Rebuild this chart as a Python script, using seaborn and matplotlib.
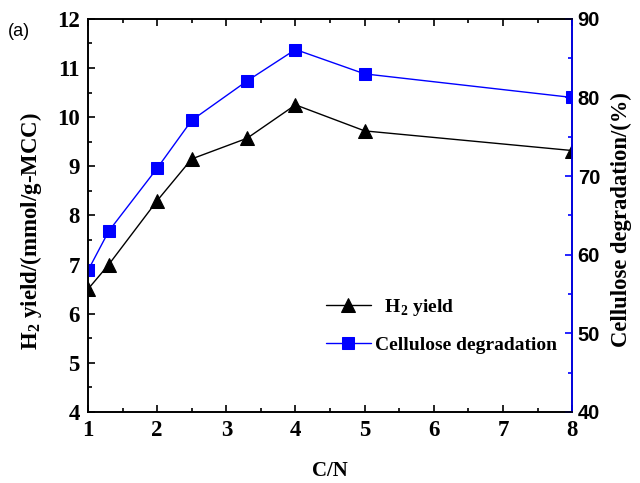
import pandas as pd
import numpy as np
import seaborn as sns
import matplotlib.pyplot as plt
from matplotlib.ticker import MultipleLocator

# data
cn = [1, 1.3, 2, 2.5, 3.3, 4, 5, 8]
h2_yield = [6.5, 7.0, 8.3, 9.15, 9.57, 10.25, 9.72, 9.32]
cell_deg = [58, 63, 71, 77.1, 82.1, 86.1, 83, 80]

df = pd.DataFrame({'CN': cn, 'H2': h2_yield, 'Cell': cell_deg})

sns.set_style("ticks")
plt.rcParams['font.family'] = ['Liberation Serif', 'DejaVu Serif']
plt.rcParams['mathtext.fontset'] = 'custom'
plt.rcParams['mathtext.rm'] = 'Liberation Serif:bold'
plt.rcParams['mathtext.bf'] = 'Liberation Serif:bold'
plt.rcParams['text.color'] = 'black'
plt.rcParams['axes.labelcolor'] = 'black'
plt.rcParams['xtick.color'] = 'black'
plt.rcParams['ytick.color'] = 'black'
plt.rcParams['axes.edgecolor'] = 'black'

fig = plt.figure(figsize=(6.4, 4.83), dpi=100)
ax = fig.add_axes([0.1375, 0.147, 0.7565, 0.814])
ax2 = ax.twinx()

sns.lineplot(data=df, x='CN', y='H2', ax=ax, color='black', marker='^',
             markersize=10, linewidth=1, markeredgecolor='black',
             label=r'  H$_2$ yield', legend=False)
sns.lineplot(data=df, x='CN', y='Cell', ax=ax2, color='#0000ff', marker='s',
             markersize=9, linewidth=1, markeredgecolor='#0000ff',
             label='Cellulose degradation', legend=False)

ax.set_xlim(1, 8)
ax.set_ylim(4, 12)
ax2.set_ylim(40, 90)
ax.xaxis.set_major_locator(MultipleLocator(1))
ax.xaxis.set_minor_locator(MultipleLocator(0.5))
ax.yaxis.set_major_locator(MultipleLocator(1))
ax.yaxis.set_minor_locator(MultipleLocator(0.5))
ax2.yaxis.set_major_locator(MultipleLocator(10))
ax2.yaxis.set_minor_locator(MultipleLocator(5))

ax.tick_params(axis='both', which='major', direction='in', length=5, width=1.2,
               top=True, labelsize=16.5, pad=6, labelcolor='black')
ax.tick_params(axis='both', which='minor', direction='in', length=3, width=1.2, top=True)
ax.tick_params(axis='y', which='both', right=False)
ax2.tick_params(axis='y', which='major', direction='in', length=5, width=1.2,
                color='#0000ff', labelsize=14.5, pad=4, labelcolor='black')
ax2.tick_params(axis='y', which='minor', direction='in', length=3, width=1.2, color='#0000ff')

for lab in ax.get_xticklabels() + ax.get_yticklabels():
    lab.set_fontweight('bold')
for lab in ax2.get_yticklabels():
    lab.set_fontweight('bold')
    lab.set_family('Liberation Sans')

for sp in ax.spines.values():
    sp.set_linewidth(1.2)
for sp in ax2.spines.values():
    sp.set_linewidth(1.2)
ax2.spines['right'].set_color('#0000ff')

ax.set_xlabel('C/N', fontsize=15, fontweight='bold', labelpad=14)
ax.set_ylabel(r'H$_2$ yield/(mmol/g-MCC)', fontsize=16.5, fontweight='bold')
ax.yaxis.set_label_coords(-0.09, 0.46)
ax2.set_ylabel('Cellulose degradation/(%)', fontsize=16.3, fontweight='bold', labelpad=8)
ax2.yaxis.set_label_coords(1.08, 0.49)

h1, l1 = ax.get_legend_handles_labels()
h2, l2 = ax2.get_legend_handles_labels()
leg = ax2.legend(h1 + h2, l1 + l2, loc='center left', bbox_to_anchor=(0.455, 0.22),
                 frameon=False, prop={'family': 'Liberation Serif', 'weight': 'bold', 'size': 14},
                 handlelength=2.3, labelspacing=0.95, handletextpad=0.25)

fig.text(0.012, 0.925, '(a)', fontsize=13, family='Liberation Sans')

fig.savefig('out.png', dpi=100)
